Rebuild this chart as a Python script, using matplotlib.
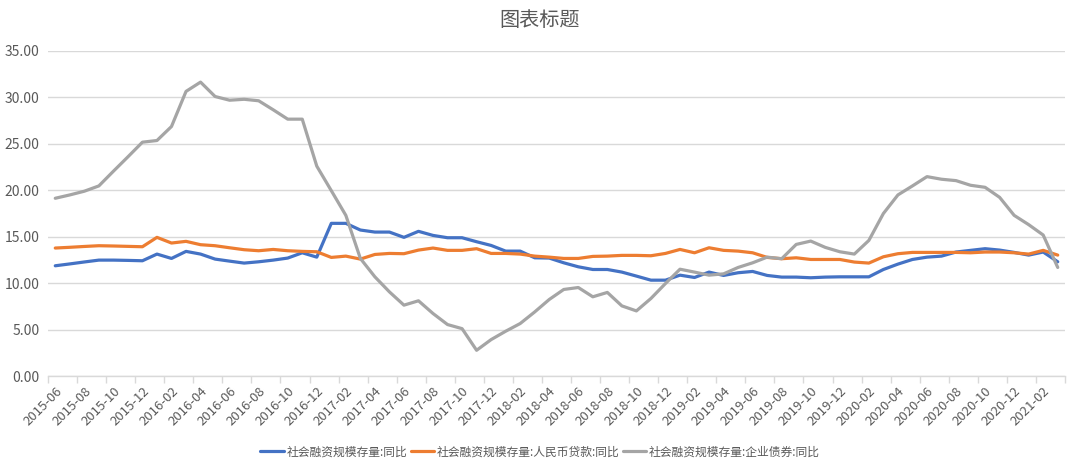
import matplotlib
matplotlib.use("Agg")
import matplotlib.pyplot as plt
import pandas as pd

plt.rcParams['font.family'] = ['Noto Sans CJK SC', 'DejaVu Sans']

months = [p.strftime('%Y-%m') for p in pd.period_range('2015-06', '2021-03', freq='M')]

total_yoy = [11.87, 12.07, 12.28, 12.48, 12.48, 12.45, 12.41, 13.13, 12.66, 13.42,
             13.13, 12.59, 12.37, 12.16, 12.30, 12.48, 12.70, 13.27, 12.80, 16.44,
             16.44, 15.72, 15.50, 15.50, 14.93, 15.58, 15.14, 14.89, 14.89, 14.46,
             14.06, 13.45, 13.45, 12.73, 12.70, 12.19, 11.76, 11.47, 11.47, 11.19,
             10.76, 10.32, 10.32, 10.86, 10.61, 11.19, 10.83, 11.12, 11.26, 10.83,
             10.65, 10.65, 10.58, 10.65, 10.68, 10.68, 10.68, 11.47, 12.05, 12.55,
             12.80, 12.91, 13.35, 13.53, 13.71, 13.56, 13.31, 13.02, 13.35, 12.30]

rmb_loan_yoy = [13.78, 13.86, 13.95, 14.03, 14.00, 13.96, 13.92, 14.93, 14.32, 14.50,
                14.14, 14.03, 13.81, 13.60, 13.49, 13.63, 13.49, 13.42, 13.38, 12.77,
                12.91, 12.59, 13.09, 13.20, 13.17, 13.56, 13.78, 13.53, 13.53, 13.71,
                13.20, 13.20, 13.13, 12.91, 12.80, 12.66, 12.66, 12.88, 12.91, 12.99,
                12.99, 12.95, 13.20, 13.63, 13.27, 13.81, 13.53, 13.45, 13.27, 12.77,
                12.63, 12.73, 12.55, 12.55, 12.55, 12.27, 12.16, 12.84, 13.17, 13.31,
                13.31, 13.31, 13.31, 13.27, 13.35, 13.35, 13.27, 13.13, 13.53, 13.02]

corp_bond_yoy = [19.14, 19.50, 19.90, 20.47, 22.05, 23.60, 25.18, 25.36, 26.87, 30.65,
                 31.65, 30.10, 29.70, 29.80, 29.64, 28.67, 27.66, 27.66, 22.60, 19.96,
                 17.30, 12.66, 10.68, 9.06, 7.63, 8.10, 6.73, 5.54, 5.10, 2.77,
                 3.92, 4.82, 5.65, 6.90, 8.24, 9.32, 9.53, 8.53, 9.00, 7.55,
                 7.01, 8.35, 9.96, 11.50, 11.19, 10.86, 11.00, 11.69, 12.19, 12.80,
                 12.63, 14.17, 14.53, 13.85, 13.38, 13.13, 14.60, 17.50, 19.50, 20.47,
                 21.47, 21.19, 21.04, 20.54, 20.32, 19.24, 17.30, 16.30, 15.18, 11.69]

series_names = ['社会融资规模存量:同比', '社会融资规模存量:人民币贷款:同比', '社会融资规模存量:企业债券:同比']
series_colors = ['#4472C4', '#ED7D31', '#A5A5A5']

fig = plt.figure(figsize=(10.8, 4.72), dpi=100)
ax = fig.add_axes([48/1080, 1-376/472, (1065-48)/1080, (376-51)/472])

x = list(range(len(months)))
for vals, name, col in zip([total_yoy, rmb_loan_yoy, corp_bond_yoy], series_names, series_colors):
    ax.plot(x, vals, color=col, lw=2.3, label=name, solid_joinstyle='round', solid_capstyle='round')

ax.set_ylim(0, 35)
ax.set_xlim(-0.5, len(months) - 0.5)
ax.set_yticks([0, 5, 10, 15, 20, 25, 30, 35])
ax.set_yticklabels([f'{v:.2f}' for v in [0, 5, 10, 15, 20, 25, 30, 35]])
ax.grid(axis='y', color='#d9d9d9', lw=1)
ax.set_axisbelow(True)

# category labels every 2 months, tick marks at category boundaries
ax.set_xticks(x[::2])
ax.set_xticklabels(months[::2], rotation=45, ha='right', rotation_mode='anchor')
ax.tick_params(axis='x', which='major', length=0, pad=6, labelsize=9.5, labelcolor='#595959')
ax.set_xticks([i - 0.5 for i in x[::2]] + [len(months) - 0.5], minor=True)
ax.tick_params(axis='x', which='minor', length=5, color='#d9d9d9', width=1)
ax.tick_params(axis='y', length=0, labelsize=10, labelcolor='#595959', pad=6)

for s in ['top', 'right', 'left']:
    ax.spines[s].set_visible(False)
ax.spines['bottom'].set_color('#d9d9d9')
ax.spines['bottom'].set_linewidth(1)

fig.text(0.5, 1 - 21/472, '图表标题', ha='center', va='center', fontsize=14.5, color='#595959')

fig.legend(loc='center', bbox_to_anchor=(0.5, 1 - 452/472), ncol=3, frameon=False,
           fontsize=8.5, handlelength=2.0, handletextpad=0.2, columnspacing=0.3,
           labelcolor='#595959')

fig.savefig('out.png', dpi=100)
